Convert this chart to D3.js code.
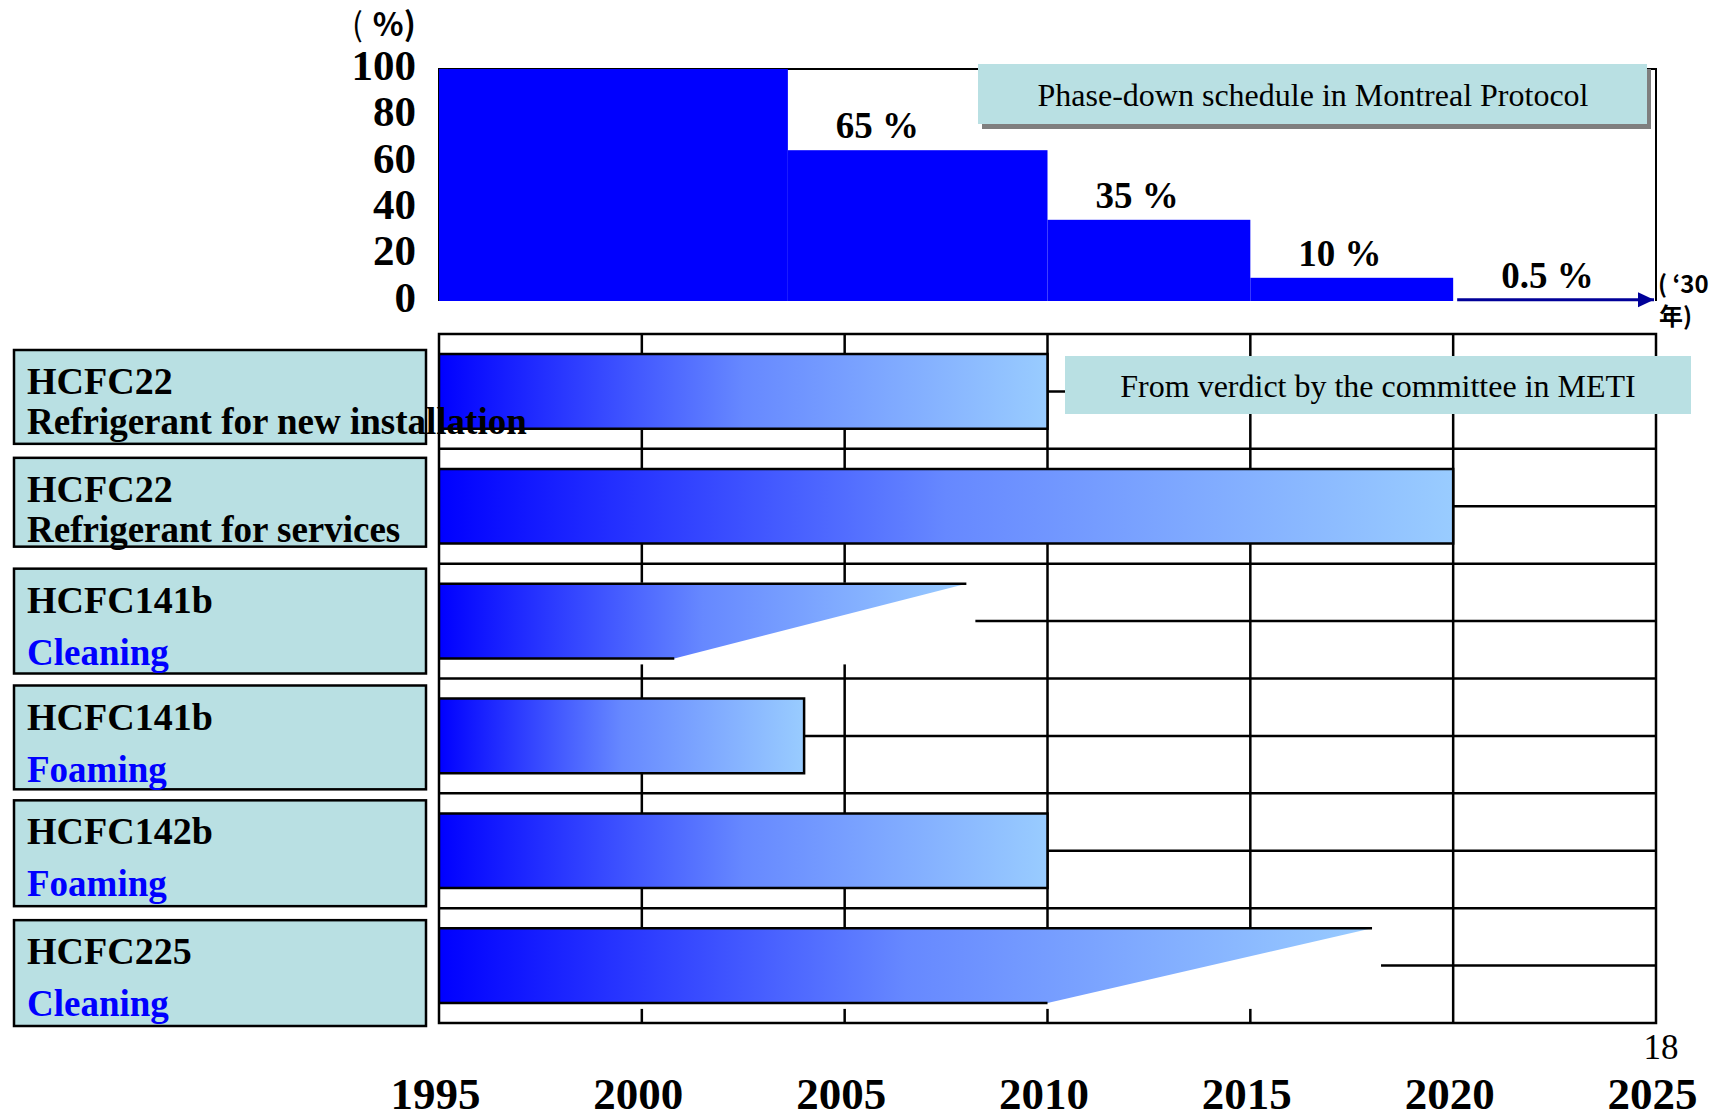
<!DOCTYPE html>
<html>
<head>
<meta charset="utf-8">
<script src="https://cdn.jsdelivr.net/npm/d3@7/dist/d3.min.js"></script>
<style>
  html, body { margin: 0; padding: 0; background: #ffffff; }
  svg { display: block; }
</style>
</head>
<body>
<script>
// ---- data ----------------------------------------------------------
const axisYears = [1995, 2000, 2005, 2010, 2015, 2020, 2025];
const percentTicks = [0, 20, 40, 60, 80, 100];

// Montreal Protocol phase-down steps (share of baseline, %)
const phaseStart = [1995, 2003.6, 2010, 2015, 2020];
const phaseEnd   = [2003.6, 2010, 2015, 2020, 2030];
const phaseLevel = [100, 65, 35, 10, 0.5];

// Phase-out schedule per substance / use
const substances = ["HCFC22", "HCFC22", "HCFC141b", "HCFC141b", "HCFC142b", "HCFC225"];
const uses = ["Refrigerant for new installation", "Refrigerant for services",
              "Cleaning", "Foaming", "Foaming", "Cleaning"];
const startYears     = [1995, 1995, 1995, 1995, 1995, 1995];
const endYearsTop    = [2010, 2020, 2008, 2004, 2010, 2018];
const endYearsBottom = [2010, 2020, 2000.8, 2004, 2010, 2010];

const noteProtocol = "Phase-down schedule in Montreal Protocol";
const noteMeti = "From verdict by the committee in METI";
const pageNumber = "18";

// ---- layout --------------------------------------------------------
const W = 1718, H = 1120;
const serif = "'Liberation Serif', 'Times New Roman', serif";
const cjk = "'Noto Sans CJK JP', 'Noto Sans', sans-serif";
const boxFill = "#b9e0e3";
// label box insets (top, bottom) inside each row band
const boxInsets = [[16, 5], [9, 17], [5, 5], [7, 4], [7, 2], [12, -3]];

const svg = d3.select("body").append("svg")
  .attr("width", W).attr("height", H)
  .attr("viewBox", `0 0 ${W} ${H}`);

const defs = svg.append("defs");
const grad = defs.append("linearGradient").attr("id", "barFade")
  .attr("x1", 0).attr("x2", 1).attr("y1", 0).attr("y2", 0);
grad.append("stop").attr("offset", 0).attr("stop-color", "#0000ff");
grad.append("stop").attr("offset", 0.5).attr("stop-color", "#6688ff");
grad.append("stop").attr("offset", 1).attr("stop-color", "#99ccff");

defs.append("marker").attr("id", "arrowHead")
  .attr("viewBox", "0 0 16 16").attr("refX", 16).attr("refY", 8)
  .attr("markerWidth", 16).attr("markerHeight", 16)
  .attr("markerUnits", "userSpaceOnUse").attr("orient", "auto")
  .append("path").attr("d", "M0,0.5 L16,8 L0,15.5 Z").attr("fill", "#000099");

// shared time scale
const x = d3.scaleLinear().domain([1995, 2025]).range([439, 1656]);
const xClamped = x.copy().clamp(true);

// ---- upper chart: phase-down steps --------------------------------
const yTop = d3.scaleLinear().domain([0, 100]).range([301, 69]);
const upper = svg.append("g");

upper.append("path")
  .attr("d", `M${x(1995)},${yTop(0)} V${yTop(100)} H${x(2025)} V${yTop(0)}`)
  .attr("fill", "none").attr("stroke", "#000").attr("stroke-width", 2);

const steps = phaseLevel.map((v, i) => ({ v, s: phaseStart[i], e: phaseEnd[i] }));

upper.selectAll("rect.step").data(steps.filter(d => d.v >= 5)).join("rect")
  .attr("class", "step")
  .attr("x", d => x(d.s))
  .attr("width", d => x(d.e) - x(d.s))
  .attr("y", d => yTop(d.v))
  .attr("height", d => yTop(0) - yTop(d.v))
  .attr("fill", "#0000ff");

const tail = steps[steps.length - 1];
upper.append("line")
  .attr("x1", x(tail.s) + 4).attr("x2", xClamped(tail.e) - 2)
  .attr("y1", yTop(tail.v)).attr("y2", yTop(tail.v))
  .attr("stroke", "#000099").attr("stroke-width", 3)
  .attr("marker-end", "url(#arrowHead)");

upper.selectAll("text.level").data(steps.slice(1)).join("text")
  .attr("class", "level")
  .attr("x", d => x(d.s) + 48)
  .attr("y", d => yTop(d.v) - 12)
  .attr("font-family", serif).attr("font-weight", "bold").attr("font-size", 37)
  .text(d => `${d.v} %`);

// percent axis (labels only)
const yAxis = upper.append("g").attr("transform", `translate(${x(1995)},0)`)
  .call(d3.axisLeft(yTop).tickValues(percentTicks).tickSize(0).tickPadding(23));
yAxis.select(".domain").remove();
yAxis.selectAll("text")
  .attr("font-family", serif).attr("font-weight", "bold").attr("font-size", 43)
  .attr("fill", "#000").attr("dy", "0.24em");

const unit = upper.append("text").attr("x", 352).attr("y", 36)
  .attr("font-family", cjk).attr("font-size", 32).attr("fill", "#000");
unit.append("tspan").attr("font-weight", "normal").text("(");
unit.append("tspan").attr("dx", 10).attr("font-weight", "bold").text("%)");

// year-end note at the arrow tip
const endNote = upper.append("g").attr("font-family", cjk)
  .attr("font-weight", "bold").attr("font-size", 24).attr("fill", "#000");
endNote.append("text").attr("x", x(2025) + 2).attr("y", 293).text("( \u201830");
endNote.append("text").attr("x", x(2025) + 3).attr("y", 325).text("年)");

// annotation box with drop shadow
upper.append("rect").attr("x", 982).attr("y", 69).attr("width", 669).attr("height", 60)
  .attr("fill", "#7f7f7f");
upper.append("rect").attr("x", 978).attr("y", 64).attr("width", 669).attr("height", 60)
  .attr("fill", boxFill);
upper.append("text").attr("x", 1313).attr("y", 106).attr("text-anchor", "middle")
  .attr("font-family", serif).attr("font-size", 32).attr("fill", "#000")
  .text(noteProtocol);

// ---- lower chart: schedule per substance --------------------------
const rows = substances.map((s, i) => ({
  i, substance: s, use: uses[i],
  start: startYears[i], endTop: endYearsTop[i], endBottom: endYearsBottom[i]
}));

const band = d3.scaleBand().domain(rows.map(d => d.i)).range([334, 1023]).padding(0);
const bw = band.bandwidth();
const barTop = d => band(d.i) + bw * 0.175;
const barBottom = d => band(d.i) + bw * 0.825;

const low = svg.append("g");
const gridStroke = { stroke: "#000", width: 2.5 };

// vertical grid at 5-year steps
low.selectAll("line.vgrid").data(axisYears.filter(y => y > 1995 && y < 2025)).join("line")
  .attr("class", "vgrid")
  .attr("x1", d => x(d)).attr("x2", d => x(d))
  .attr("y1", 334).attr("y2", 1023)
  .attr("stroke", gridStroke.stroke).attr("stroke-width", gridStroke.width);

// horizontal grid: row boundaries and row centres
const hLines = [];
rows.forEach(d => {
  if (d.i > 0) hLines.push(band(d.i));
  hLines.push(band(d.i) + bw / 2);
});
low.selectAll("line.hgrid").data(hLines).join("line")
  .attr("class", "hgrid")
  .attr("x1", x(1995)).attr("x2", x(2025))
  .attr("y1", d => d).attr("y2", d => d)
  .attr("stroke", gridStroke.stroke).attr("stroke-width", gridStroke.width);

// tapered bars sit on a white backing that hides the grid behind them
const tapered = rows.filter(d => d.endTop !== d.endBottom);
low.selectAll("rect.backing").data(tapered).join("rect")
  .attr("class", "backing")
  .attr("x", d => x(d.start))
  .attr("y", d => barTop(d) - 1)
  .attr("width", d => x(Math.max(d.endTop, d.endBottom)) - x(d.start) + 9)
  .attr("height", d => barBottom(d) - barTop(d) + 7)
  .attr("fill", "#ffffff");

low.selectAll("path.bar").data(rows).join("path")
  .attr("class", "bar")
  .attr("d", d => `M${x(d.start)},${barTop(d)} H${x(d.endTop)} L${x(d.endBottom)},${barBottom(d)} H${x(d.start)} Z`)
  .attr("fill", "url(#barFade)");

low.selectAll("path.edge").data(rows).join("path")
  .attr("class", "edge")
  .attr("d", d => {
    let p = `M${x(d.start)},${barTop(d)} H${x(d.endTop)}`;
    if (d.endTop === d.endBottom) p += ` V${barBottom(d)}`;
    else p += ` M${x(d.endBottom)},${barBottom(d)}`;
    return p + ` H${x(d.start)}`;
  })
  .attr("fill", "none").attr("stroke", "#000").attr("stroke-width", 2.5);

low.append("rect").attr("x", x(1995)).attr("y", 334)
  .attr("width", x(2025) - x(1995)).attr("height", 1023 - 334)
  .attr("fill", "none").attr("stroke", "#000").attr("stroke-width", 2.5);

// row label boxes
const boxTop = d => band(d.i) + boxInsets[d.i][0];
const labels = low.selectAll("g.rowLabel").data(rows).join("g").attr("class", "rowLabel");
labels.append("rect")
  .attr("x", 14).attr("y", boxTop)
  .attr("width", 412).attr("height", d => bw - boxInsets[d.i][0] - boxInsets[d.i][1])
  .attr("fill", boxFill).attr("stroke", "#000").attr("stroke-width", 2.5);
labels.append("text")
  .attr("x", 27).attr("y", d => boxTop(d) + 44)
  .attr("font-family", serif).attr("font-weight", "bold").attr("font-size", 38)
  .attr("fill", "#000").text(d => d.substance);
labels.append("text")
  .attr("x", 27).attr("y", d => boxTop(d) + (d.i < 2 ? 84 : 96))
  .attr("font-family", serif).attr("font-weight", "bold").attr("font-size", 37)
  .attr("fill", d => d.i < 2 ? "#000" : "#0000ff").text(d => d.use);

// committee note
low.append("rect").attr("x", 1065).attr("y", 356).attr("width", 626).attr("height", 58)
  .attr("fill", boxFill);
low.append("text").attr("x", 1378).attr("y", 397).attr("text-anchor", "middle")
  .attr("font-family", serif).attr("font-size", 32).attr("fill", "#000")
  .text(noteMeti);

// year axis (labels only)
const xAxis = svg.append("g").attr("transform", "translate(0,1023)")
  .call(d3.axisBottom(x).tickValues(axisYears).tickFormat(d3.format("d")).tickSize(0).tickPadding(0));
xAxis.select(".domain").remove();
xAxis.selectAll("text")
  .attr("font-family", serif).attr("font-weight", "bold").attr("font-size", 45)
  .attr("fill", "#000").attr("y", 86).attr("dy", 0).attr("dx", -4);

svg.append("text").attr("x", 1661).attr("y", 1059).attr("text-anchor", "middle")
  .attr("font-family", serif).attr("font-size", 35).attr("fill", "#000")
  .text(pageNumber);
</script>
</body>
</html>
